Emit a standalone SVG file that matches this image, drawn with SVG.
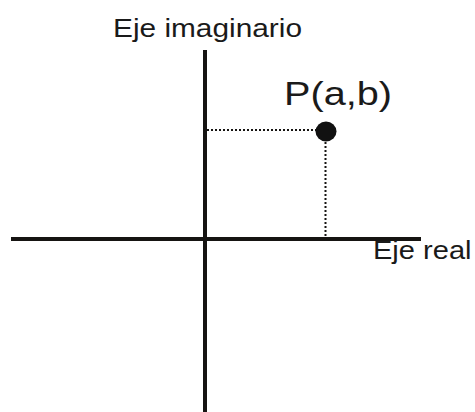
<svg xmlns="http://www.w3.org/2000/svg" width="475" height="412" viewBox="0 0 475 412">
<style>
.axis{stroke:#161412;stroke-width:4;fill:none}
.dot{stroke:#161412;stroke-width:2;stroke-dasharray:2 2;fill:none}
.lbl{font-family:"Liberation Sans",Arial,sans-serif;fill:#1a1a1a}
</style>
<rect width="475" height="412" fill="#ffffff"/>
<g id="connectors">
<line class="axis" x1="11" y1="239" x2="421" y2="239"/>
<line class="axis" x1="205" y1="50" x2="205" y2="412"/>
<line class="dot" x1="207" y1="130" x2="316" y2="130"/>
<line class="dot" x1="325.5" y1="142" x2="325.5" y2="237"/>
</g>
<g id="label-imag">
<text class="lbl" x="113" y="36.5" font-size="26" textLength="189" lengthAdjust="spacingAndGlyphs">Eje imaginario</text>
</g>
<g id="point">
<ellipse cx="326" cy="131.5" rx="10.5" ry="10" fill="#111"/>
<text class="lbl" x="284" y="104.5" font-size="34" textLength="108" lengthAdjust="spacingAndGlyphs">P(a,b)</text>
</g>
<g id="label-real">
<text class="lbl" x="373" y="258.5" font-size="25.5" textLength="98.5" lengthAdjust="spacingAndGlyphs">Eje real</text>
</g>
</svg>
